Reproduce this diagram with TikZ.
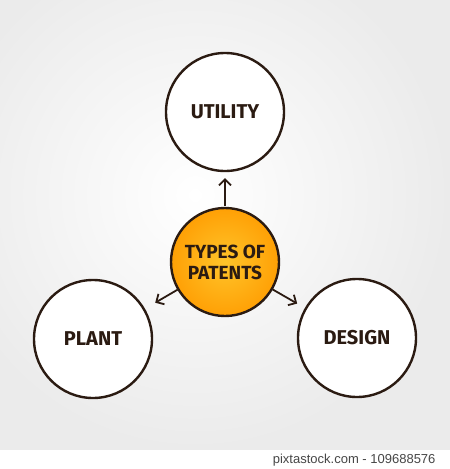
\documentclass[tikz,border=0pt]{standalone}
\usepackage{fontspec}
\setmainfont{Fira Sans}
\setsansfont{Liberation Sans}
\usetikzlibrary{arrows.meta}
\definecolor{ink}{HTML}{2B1B12}
\definecolor{orangein}{HTML}{FFC42A}
\definecolor{orangeout}{HTML}{FFA005}
\definecolor{bggray}{HTML}{EBEBEB}
\begin{document}
\begin{tikzpicture}[x=1pt, y=-1pt,
		topic/.style = {circle, draw = ink, line width = 2.4pt, fill = white, minimum size = 118pt, inner sep = 0pt, outer sep = 0pt, font = \fontsize{20}{22}\selectfont\bfseries, text = ink},
		hub/.style = {topic, minimum size = 108pt, inner color = orangein, outer color = orangeout, align = center, font = \fontsize{19}{21}\selectfont\bfseries},
		link/.style = {ink, line width = 1.8pt, -{Straight Barb[length = 6pt, width = 12pt]}}]
		\useasboundingbox (0, 0) rectangle (450, 469);

		% background
		\shade [inner color = white, outer color = bggray] (-60, -60) rectangle (450, 450);
		\fill [white] (0, 450) rectangle (450, 469);
		\node [anchor = east, font = \sffamily\fontsize{13}{15}\selectfont, text = black!72] (stock) at (439, 460) {pixtastock.com - 109688576};

		% center
		\node [hub] (center) at (225, 262) {TYPES OF\\PATENTS};

		% outer circles
		\node [topic] (utility) at (225, 112) {UTILITY};
		\node [topic] (plant) at (93, 339) {PLANT};
		\node [topic] (design) at (357, 338) {DESIGN};

		% arrows
		\draw [link, shorten < = 2pt, shorten > = 7pt] (center) -- (utility);
		\draw [link, shorten < = 1pt, shorten > = 13pt] (center) -- (plant);
		\draw [link, shorten < = 1pt, shorten > = 10pt] (center) -- (design);
	\end{tikzpicture}
\end{document}
